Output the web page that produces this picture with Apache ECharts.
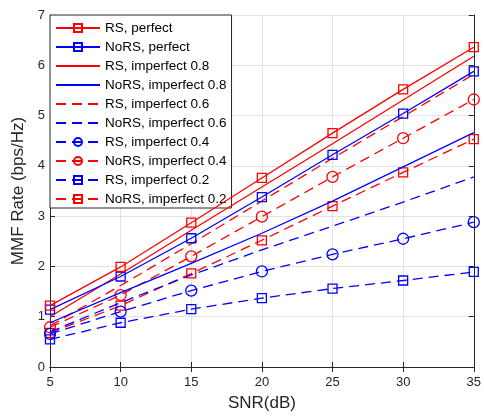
<!DOCTYPE html>
<html>
<head>
<meta charset="utf-8">
<script src="https://cdn.jsdelivr.net/npm/echarts@6/dist/echarts.min.js"></script>
<style>
  html, body { margin: 0; padding: 0; background: #fff; }
  #chart { width: 484px; height: 417px; }
</style>
</head>
<body>
<div id="chart"></div>
<script>
// SNR 横轴
var snr = [5, 10, 15, 20, 25, 30, 35];
var xTicks = [5, 10, 15, 20, 25, 30, 35];
var yTicks = [0, 1, 2, 3, 4, 5, 6, 7];

// 各曲线数据
var rsPerfect     = [1.22, 1.99, 2.87, 3.76, 4.65, 5.52, 6.36];
var norsPerfect   = [1.14, 1.80, 2.56, 3.38, 4.22, 5.04, 5.88];
var rsImp08       = [1.00, 1.85, 2.72, 3.58, 4.44, 5.31, 6.18];
var norsImp08     = [0.88, 1.48, 2.06, 2.66, 3.30, 3.98, 4.66];
var rsImp06       = [0.82, 1.62, 2.45, 3.30, 4.15, 4.98, 5.82];
var norsImp06     = [0.70, 1.28, 1.83, 2.33, 2.80, 3.28, 3.78];
var rsImp04       = [0.66, 1.10, 1.52, 1.90, 2.24, 2.55, 2.88];
var norsImp04     = [0.79, 1.43, 2.20, 2.99, 3.78, 4.55, 5.32];
var rsImp02       = [0.55, 0.88, 1.15, 1.37, 1.56, 1.72, 1.89];
var norsImp02     = [0.68, 1.22, 1.86, 2.52, 3.20, 3.87, 4.53];

var names = [
    'RS, perfect', 'NoRS, perfect',
    'RS, imperfect 0.8', 'NoRS, imperfect 0.8',
    'RS, imperfect 0.6', 'NoRS, imperfect 0.6',
    'RS, imperfect 0.4', 'NoRS, imperfect 0.4',
    'RS, imperfect 0.2', 'NoRS, imperfect 0.2'
];
var values = [rsPerfect, norsPerfect, rsImp08, norsImp08, rsImp06, norsImp06,
              rsImp04, norsImp04, rsImp02, norsImp02];

var RED = '#ff0000', BLUE = '#0000ff';
var DASH = [10, 6];
// 样式: 颜色, 线型, 标记
var styles = [
    [RED, 'solid', 'rect'],
    [BLUE, 'solid', 'rect'],
    [RED, 'solid', 'none'],
    [BLUE, 'solid', 'none'],
    [RED, DASH, 'none'],
    [BLUE, DASH, 'none'],
    [BLUE, DASH, 'circle'],
    [RED, DASH, 'circle'],
    [BLUE, DASH, 'rect'],
    [RED, DASH, 'rect']
];

var AXIS_COLOR = '#262626';
var FONT = 'Liberation Sans, Arial, sans-serif';

function pairs(ys) {
    var out = [];
    for (var i = 0; i < snr.length; i++) out.push([snr[i], ys[i]]);
    return out;
}

var series = [];
var legendData = [];
for (var i = 0; i < names.length; i++) {
    var st = styles[i];
    var hasMark = st[2] !== 'none';
    series.push({
        name: names[i],
        type: 'line',
        xAxisIndex: 0,
        yAxisIndex: 0,
        data: pairs(values[i]),
        symbol: st[2],
        symbolSize: st[2] === 'circle' ? 11 : 9,
        showSymbol: hasMark,
        color: st[0],
        lineStyle: { color: st[0], width: 1.3, type: st[1] },
        // 空心标记, 线从中间穿过
        itemStyle: { color: 'transparent', borderColor: st[0], borderWidth: 1.3 },
        emphasis: { disabled: true },
        animation: false,
        z: 10 - i
    });
    var item = { name: names[i] };
    if (!hasMark) item.itemStyle = { opacity: 0 };
    legendData.push(item);
}

function axisCommon(extra) {
    var base = {
        type: 'value',
        axisLine: { show: true, lineStyle: { color: AXIS_COLOR, width: 1 } },
        axisTick: { show: true, inside: true, length: 5, lineStyle: { color: AXIS_COLOR } },
        axisLabel: { show: false },
        splitLine: { show: false }
    };
    for (var k in extra) base[k] = extra[k];
    return base;
}

var option = {
    backgroundColor: '#fff',
    animation: false,
    grid: { left: 50, right: 8, top: 15, bottom: 47, containLabel: false },
    legend: {
        data: legendData,
        orient: 'vertical',
        left: 50,
        top: 15,
        padding: [6, 5, 2, 5],
        itemWidth: 44,
        itemHeight: 10,
        itemGap: 5,
        backgroundColor: '#fff',
        borderColor: AXIS_COLOR,
        borderWidth: 1,
        borderRadius: 0,
        textStyle: { fontFamily: FONT, fontSize: 13.5, color: '#000' },
        selectedMode: false
    },
    xAxis: [
        axisCommon({
            min: xTicks[0], max: xTicks[xTicks.length - 1], interval: 5,
            position: 'bottom',
            name: 'SNR(dB)', nameLocation: 'middle', nameGap: 28,
            nameTextStyle: { fontFamily: FONT, fontSize: 17, color: AXIS_COLOR },
            axisLabel: { show: true, fontFamily: FONT, fontSize: 13, color: AXIS_COLOR, margin: 9 },
            splitLine: { show: true, lineStyle: { color: '#e3e3e3', width: 1 } }
        }),
        axisCommon({ min: xTicks[0], max: xTicks[xTicks.length - 1], interval: 5, position: 'top' })
    ],
    yAxis: [
        axisCommon({
            min: yTicks[0], max: yTicks[yTicks.length - 1], interval: 1,
            position: 'left',
            name: 'MMF Rate (bps/Hz)', nameLocation: 'middle', nameGap: 15,
            nameTextStyle: { fontFamily: FONT, fontSize: 17, color: AXIS_COLOR },
            axisLabel: { show: true, fontFamily: FONT, fontSize: 13, color: AXIS_COLOR, margin: 5 },
            splitLine: { show: true, lineStyle: { color: '#e3e3e3', width: 1 } }
        }),
        axisCommon({ min: yTicks[0], max: yTicks[yTicks.length - 1], interval: 1, position: 'right' })
    ],
    series: series
};

var myChart = echarts.init(document.getElementById('chart'), null, { renderer: 'canvas' });
myChart.setOption(option, true);
</script>
</body>
</html>
